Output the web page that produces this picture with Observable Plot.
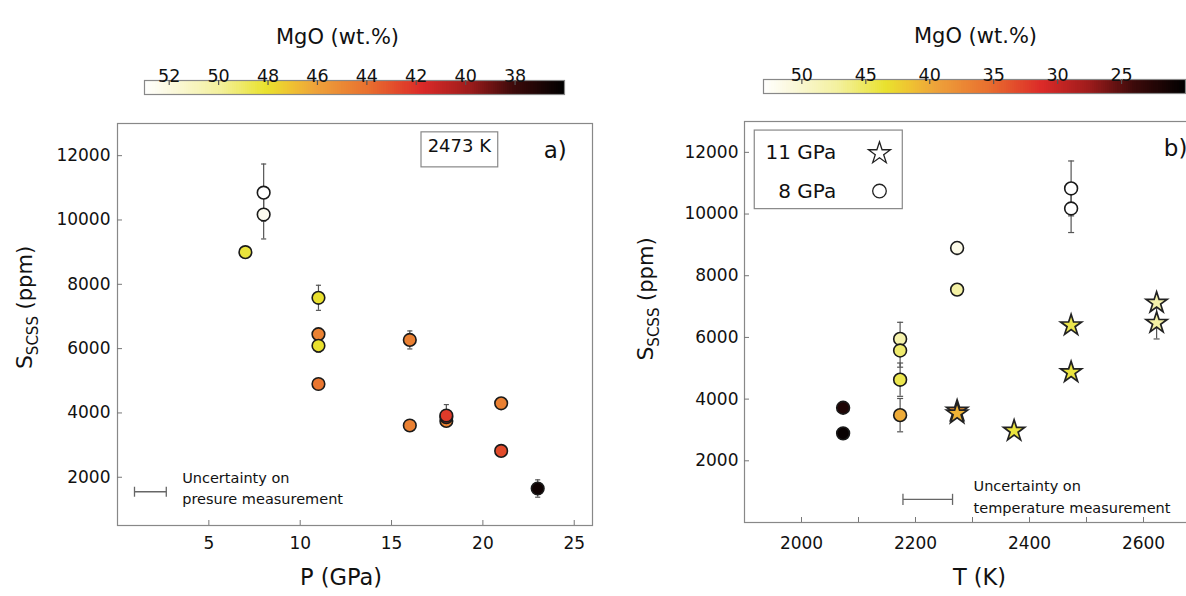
<!DOCTYPE html>
<html><head><meta charset="utf-8">
<script src="https://cdn.jsdelivr.net/npm/d3@7"></script>
<script src="https://cdn.jsdelivr.net/npm/@observablehq/plot@0.6"></script>
<style>
html,body{margin:0;padding:0;background:#fff;}
#fig{position:relative;width:1186px;height:596px;overflow:hidden;font-family:"DejaVu Sans",sans-serif;}
#fig > svg{position:absolute;}
</style></head><body><div id="fig"></div>
<script>
// ---------------- data ----------------
// Panel a) : T = 2473 K, S_SCSS vs P
const aP   = [8, 8, 7, 11, 11, 11, 11, 16, 16, 18, 18, 18, 21, 21, 23];
const aS   = [10850, 10170, 9000, 7580, 6450, 6090, 4900, 6270, 3610, 3750, 3870, 3920, 4300, 2820, 1650];
const aMgO = [53, 52.5, 48.3, 48, 44.7, 48, 44.2, 44.6, 44.6, 44.8, 42.0, 42.3, 44.6, 42.8, 36.5];
const aErr = [890, 760, 0, 390, 0, 200, 0, 280, 0, 0, 0, 340, 0, 0, 270];

// Panel b) : S_SCSS vs T, 8 GPa (circles) and 11 GPa (stars)
const bCircT   = [2073, 2073, 2173, 2173, 2173, 2173, 2273, 2273, 2473, 2473];
const bCircS   = [3720, 2890, 5950, 5575, 4630, 3480, 8900, 7550, 10830, 10180];
const bCircMgO = [22, 20.5, 48, 45.5, 44.5, 40, 51.5, 47.5, 53, 53];
const bCircErr = [0, 0, 540, 540, 540, 540, 0, 0, 890, 780];
const bStarT   = [2273, 2273, 2373, 2473, 2473, 2623, 2623];
const bStarS   = [3620, 3530, 2970, 6390, 4870, 7120, 6470];
const bStarMgO = [38.5, 40.5, 44, 44.5, 44, 48, 47.5];
const bStarErr = [0, 0, 0, 0, 0, 0, 520];

// tick labels
const aXTicks = [5, 10, 15, 20, 25];
const aYTicks = [2000, 4000, 6000, 8000, 10000, 12000];
const bXTicks = [2000, 2100, 2200, 2300, 2400, 2500, 2600];
const bYTicks = [2000, 4000, 6000, 8000, 10000, 12000];
const aCbTicks = [52, 50, 48, 46, 44, 42, 40, 38];
const bCbTicks = [50, 45, 40, 35, 30, 25];
const aCbRange = [36, 53];
const bCbRange = [20, 53];

// colour map (normalised position from high MgO to low MgO)
const palT = [0, 0.06, 0.18, 0.29, 0.35, 0.41, 0.53, 0.66, 0.77, 0.88, 1];
const palC = ["#ffffff", "#fbf9e0", "#f3f09c", "#e9e22e", "#efc232", "#eea23a", "#e9712f", "#dc2a28", "#a01c1c", "#3c0a0a", "#000000"];

// annotations
const aBox   = [{x1: 16.64, x2: 20.84, y1: 11636, y2: 12725}];
const aNotes = [
  {x: 18.71, y: 12280, t: "2473 K", size: 18, anchor: "middle"},
  {x: 23.96, y: 12155, t: "a)", size: 23, anchor: "middle"},
  {x: 3.54, y: 1960, t: "Uncertainty on", size: 14.5, anchor: "start"},
  {x: 3.54, y: 1320, t: "presure measurement", size: 14.5, anchor: "start"}
];
const aUnc = {x1: 0.93, x2: 2.67, y: 1550, cap: 155};
const bBox   = [{x1: 1918, x2: 2177.7, y1: 10159, y2: 12706}];
const bNotes = [
  {x: 2635.6, y: 12130, t: "b)", size: 23, anchor: "start"},
  {x: 2060.9, y: 11980, t: "11 GPa", size: 20, anchor: "end"},
  {x: 2060.9, y: 10735, t: "8 GPa", size: 20, anchor: "end"},
  {x: 2301.8, y: 1168, t: "Uncertainty on", size: 14.5, anchor: "start"},
  {x: 2301.8, y: 470, t: "temperature measurement", size: 14.5, anchor: "start"}
];
const bLegStar = [{x: 2136.8, y: 11968}];
const bLegCirc = [{x: 2136.8, y: 10745}];
const bUnc = {x1: 2178, x2: 2265, y: 750, cap: 180};

// ---------------- helpers ----------------
function colorScale([lo, hi]) {
  const dom = palT.map(t => hi - (hi - lo) * t);
  return {type: "linear", domain: dom.slice().reverse(), range: palC.slice().reverse()};
}
const baseStyle = {fontFamily: "DejaVu Sans", fontSize: "17px", color: "#111", background: "transparent"};
const fig = document.getElementById("fig");
function place(svg, left, top) { svg.style.left = left + "px"; svg.style.top = top + "px"; fig.appendChild(svg); }
function yLabel(svg, x, y) {
  const t = d3.select(svg).append("text")
    .attr("transform", `translate(${x},${y}) rotate(-90)`)
    .attr("text-anchor", "middle").attr("font-size", 22).attr("fill", "#111")
    .attr("font-family", "DejaVu Sans");
  t.append("tspan").text("S");
  t.append("tspan").attr("font-size", 15).attr("dy", 6).text("SCSS");
  t.append("tspan").attr("dy", -6).attr("font-size", 21).text(" (ppm)");
}
function caps(data, xk, yk, ek, hw) {
  return data.filter(d => d[ek] > 0).flatMap(d => [d[yk] - d[ek], d[yk] + d[ek]].map(v => ({x1: d[xk] - hw, x2: d[xk] + hw, y: v})));
}
function noteMarks(notes) {
  return notes.map(n => Plot.text([n], {x: "x", y: "y", text: "t", fontSize: n.size, textAnchor: n.anchor, fill: "#111"}));
}
function uncMarks(u) {
  return [
    Plot.link([u], {x1: "x1", x2: "x2", y1: "y", y2: "y", stroke: "#666", strokeWidth: 1.3}),
    Plot.link([u.x1, u.x2], {x1: d => d, x2: d => d, y1: () => u.y - u.cap, y2: () => u.y + u.cap, stroke: "#666", strokeWidth: 1.3})
  ];
}
function colorbar(range, ticks, mL, mR, mT, mB, titleDx, titleDy) {
  const step = (range[1] - range[0]) / 200;
  const steps = d3.range(range[0], range[1], step);
  return Plot.plot({
    width: 600, height: 100, marginLeft: mL, marginRight: mR, marginTop: mT, marginBottom: mB,
    style: baseStyle,
    x: {domain: [range[1], range[0]], axis: null},
    color: colorScale(range),
    marks: [
      Plot.barX(steps, {x1: d => d, x2: d => Math.min(range[1], d + step * 1.6), fill: d => d + step / 2, shapeRendering: "crispEdges"}),
      Plot.frame({stroke: "#888", strokeWidth: 1.2}),
      Plot.ruleX(ticks, {x: d => d, insetBottom: 9, stroke: "#555", strokeWidth: 1.2}),
      Plot.text(ticks, {x: d => d, text: d => String(d), frameAnchor: "top", dy: -10.5, fontSize: 17.5, fill: "#111"}),
      Plot.text(["MgO (wt.%)"], {text: d => d, frameAnchor: "top", dx: titleDx, dy: titleDy, fontSize: 21, fill: "#111"})
    ]
  });
}

// ---------------- colour bars ----------------
place(colorbar(aCbRange, aCbTicks, 144, 36, 80, 6, -17, -51.4), 0, 0);
place(colorbar(bCbRange, bCbTicks, 143, 35, 79, 7, 1, -51.8), 620, 0);

// ---------------- panel a ----------------
const aData = aP.map((p, i) => ({P: p, S: aS[i], MgO: aMgO[i], err: aErr[i]}));
const aErrData = aData.filter(d => d.err > 0);
const left = Plot.plot({
  width: 620, height: 496, marginLeft: 117, marginRight: 28, marginTop: 23, marginBottom: 71,
  style: baseStyle,
  x: {domain: [0, 26]},
  y: {domain: [500, 13000]},
  color: colorScale(aCbRange),
  marks: [
    Plot.frame({stroke: "#888", strokeWidth: 1.2}),
    Plot.axisX({ticks: aXTicks, tickFormat: d => String(d), tickSize: -5, tickPadding: 16, stroke: "#777", fill: "#111", label: null}),
    Plot.axisY({ticks: aYTicks, tickFormat: d => String(d), tickSize: -5, tickPadding: 12, stroke: "#777", fill: "#111", label: null}),
    Plot.rect(aBox, {x1: "x1", x2: "x2", y1: "y1", y2: "y2", fill: "white", stroke: "#888", strokeWidth: 1.2}),
    ...noteMarks(aNotes),
    ...uncMarks(aUnc),
    Plot.ruleX(aErrData, {x: "P", y1: d => d.S - d.err, y2: d => d.S + d.err, stroke: "#555", strokeWidth: 1.2}),
    Plot.link(caps(aData, "P", "S", "err", 0.14), {x1: "x1", x2: "x2", y1: "y", y2: "y", stroke: "#555", strokeWidth: 1.2}),
    Plot.dot(aData, {x: "P", y: "S", r: 6.3, fill: "MgO", stroke: "#1a1a1a", strokeWidth: 1.6}),
    Plot.text(["P (GPa)"], {text: d => d, frameAnchor: "bottom", dx: -14, dy: 59, fontSize: 22.5, fill: "#111"})
  ]
});
yLabel(left, 32, 207.5);
place(left, 0, 100);

// ---------------- panel b ----------------
const bCirc = bCircT.map((t, i) => ({T: t, S: bCircS[i], MgO: bCircMgO[i], err: bCircErr[i]}));
const bStar = bStarT.map((t, i) => ({T: t, S: bStarS[i], MgO: bStarMgO[i], err: bStarErr[i]}));
const bAll = bCirc.concat(bStar);
const right = Plot.plot({
  width: 600, height: 496, marginLeft: 124, marginRight: 20, marginTop: 21, marginBottom: 74,
  style: baseStyle,
  x: {domain: [1900, 2700]},
  y: {domain: [0, 13000]},
  color: colorScale(bCbRange),
  marks: [
    Plot.frame({stroke: "#888", strokeWidth: 1.2}),
    Plot.axisX({ticks: bXTicks, tickFormat: d => (d % 200 === 0 ? String(d) : ""), tickSize: -5, tickPadding: 19.5, stroke: "#777", fill: "#111", label: null}),
    Plot.axisY({ticks: bYTicks, tickFormat: d => String(d), tickSize: -5, tickPadding: 11, stroke: "#777", fill: "#111", label: null}),
    Plot.rect(bBox, {x1: "x1", x2: "x2", y1: "y1", y2: "y2", fill: "white", stroke: "#888", strokeWidth: 1.2}),
    Plot.dot(bLegStar, {x: "x", y: "y", symbol: "star", r: 6.9, fill: "white", stroke: "#222", strokeWidth: 1.3}),
    Plot.dot(bLegCirc, {x: "x", y: "y", symbol: "circle", r: 6.8, fill: "white", stroke: "#222", strokeWidth: 1.3}),
    ...noteMarks(bNotes),
    ...uncMarks(bUnc),
    Plot.ruleX(bAll.filter(d => d.err > 0), {x: "T", y1: d => d.S - d.err, y2: d => d.S + d.err, stroke: "#555", strokeWidth: 1.2}),
    Plot.link(caps(bAll, "T", "S", "err", 5.3), {x1: "x1", x2: "x2", y1: "y", y2: "y", stroke: "#555", strokeWidth: 1.2}),
    Plot.dot(bCirc, {x: "T", y: "S", r: 6.4, fill: "MgO", stroke: "#1a1a1a", strokeWidth: 1.6}),
    Plot.dot(bStar, {x: "T", y: "S", r: 6.6, symbol: "star", fill: "MgO", stroke: "#222", strokeWidth: 1.7}),
    Plot.text(["T (K)"], {text: d => d, frameAnchor: "bottom", dx: 7, dy: 62, fontSize: 22.5, fill: "#111"})
  ]
});
yLabel(right, 33, 199);
place(right, 620, 100);
</script></body></html>
